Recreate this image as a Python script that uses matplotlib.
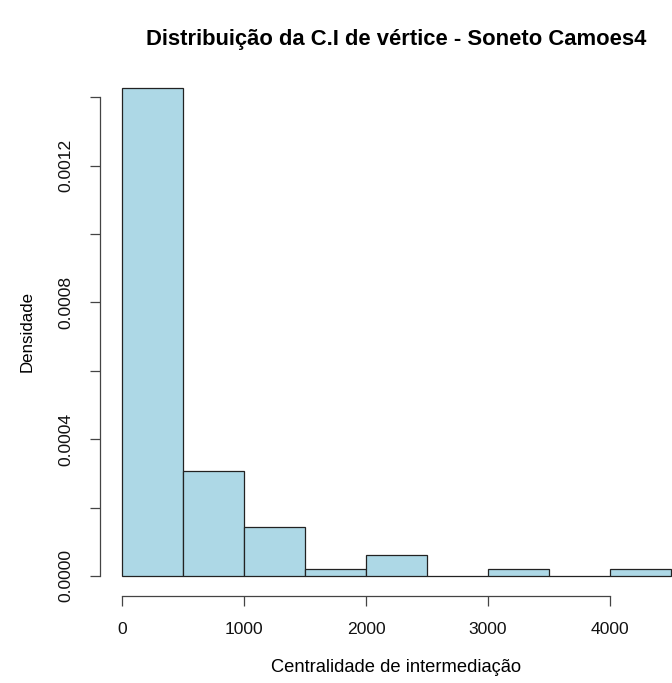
import matplotlib
matplotlib.use("Agg")
import matplotlib.pyplot as plt
import numpy as np

plt.rcParams['font.family'] = ['Liberation Sans', 'DejaVu Sans']

# Histogram of betweenness centrality (bins of width 500)
bin_edges = [0, 500, 1000, 1500, 2000, 2500, 3000, 3500, 4000, 4500]
bin_counts = [70, 15, 7, 1, 3, 0, 1, 0, 1]
x_ticks = [0, 1000, 2000, 3000, 4000]
y_ticks = [0.0, 0.0002, 0.0004, 0.0006, 0.0008, 0.0010, 0.0012, 0.0014]
y_tick_labels = ["0.0000", "", "0.0004", "", "0.0008", "", "0.0012", ""]

W, H = 672, 683
fig = plt.figure(figsize=(W / 100, H / 100), dpi=100)

# plot region in pixel coordinates
left_px, right_px, top_px, bottom_px = 100, 693, 68, 595.5
ax = fig.add_axes([left_px / W, 1 - bottom_px / H,
                   (right_px - left_px) / W, (bottom_px - top_px) / H])

centers = [(a + b) / 2 for a, b in zip(bin_edges[:-1], bin_edges[1:])]
ax.hist(centers, bins=bin_edges, weights=bin_counts, density=True,
        color='#ADD8E6', edgecolor='#222222', linewidth=0.9)

dens_max = max(bin_counts) / (sum(bin_counts) * 500)
xr = bin_edges[-1] - bin_edges[0]
ax.set_xlim(bin_edges[0] - 0.04 * xr, bin_edges[-1] + 0.04 * xr)
ax.set_ylim(-0.04 * dens_max, dens_max * 1.04)

for s in ['top', 'right']:
    ax.spines[s].set_visible(False)
ax.spines['left'].set_bounds(0, 0.0014)
ax.spines['bottom'].set_bounds(0, 4000)
for s in ['left', 'bottom']:
    ax.spines[s].set_color('#444444')
    ax.spines[s].set_linewidth(0.9)

ax.set_xticks(x_ticks)
ax.set_xticklabels([str(v) for v in x_ticks])
ax.set_yticks(y_ticks)
ax.set_yticklabels(y_tick_labels, rotation=90, va='center')
ax.tick_params(axis='both', direction='out', length=7, width=0.9,
               color='#444444', labelsize=12.6, labelcolor='#111111')
ax.tick_params(axis='x', pad=12)
ax.tick_params(axis='y', pad=12)

fig.text((left_px + right_px) / 2 / W, 1 - 39 / H,
         "Distribuição da C.I de vértice - Soneto Camoes4",
         ha='center', va='center', fontsize=15.8, fontweight='bold')
fig.text((left_px + right_px) / 2 / W, 1 - 667 / H,
         "Centralidade de intermediação", ha='center', va='center', fontsize=13.2)
fig.text(27 / W, 1 - (top_px + bottom_px) / 2 / H, "Densidade",
         ha='center', va='center', rotation=90, fontsize=12.2)

fig.savefig("out.png", dpi=100)
